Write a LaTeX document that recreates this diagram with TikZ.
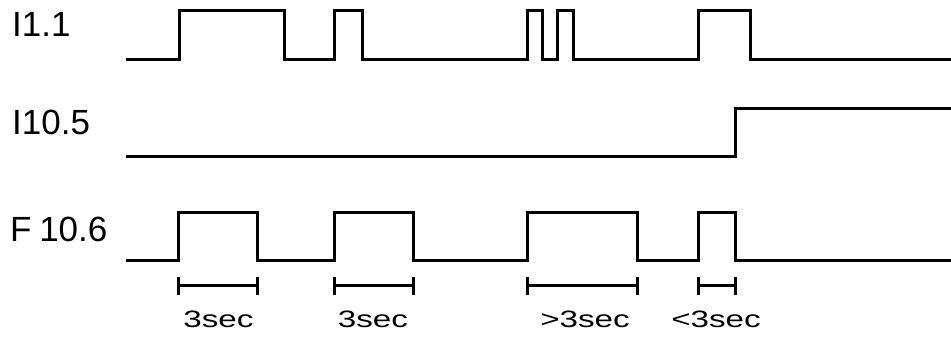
\documentclass[tikz,border=0pt]{standalone}
\usepackage{fontspec}
\setmainfont{Liberation Sans}
\begin{document}
\begin{tikzpicture}[x=1pt,y=-1pt,
  signal/.style={line width=3pt,line join=miter},
  span/.style={line width=3pt},
  sig label/.style={anchor=base west,inner sep=0pt,font=\fontsize{35}{40}\selectfont},
  time label/.style={anchor=base,inner sep=0pt,font=\fontsize{23.7}{28}\selectfont}]
\useasboundingbox (0,0) rectangle (951,337);
% labels
\node[sig label] (lI) at (12,37) {I1.1};
\node[sig label] (lII) at (12,135) {I10.5};
\node[sig label] (lF) at (10,241) {F\kern-2pt\ 10.6};
% I1.1
\draw[signal] (126,59.5) -- (179,59.5) -- (179,10.5) -- (284,10.5) -- (284,59.5)
  -- (334,59.5) -- (334,10.5) -- (362,10.5) -- (362,59.5)
  -- (527,59.5) -- (527,10.5) -- (542,10.5) -- (542,59.5)
  -- (557,59.5) -- (557,10.5) -- (573,10.5) -- (573,59.5)
  -- (698,59.5) -- (698,10.5) -- (750,10.5) -- (750,59.5) -- (951,59.5);
% I10.5
\draw[signal] (126,156.5) -- (735,156.5) -- (735,108.5) -- (951,108.5);
% F10.6
\draw[signal] (126,260.5) -- (178,260.5) -- (178,212.5) -- (257,212.5) -- (257,260.5)
  -- (334,260.5) -- (334,212.5) -- (413,212.5) -- (413,260.5)
  -- (527,260.5) -- (527,212.5) -- (637,212.5) -- (637,260.5)
  -- (698,260.5) -- (698,212.5) -- (735,212.5) -- (735,260.5) -- (951,260.5);
% spans
\foreach \a/\b in {178/257,334/413,527/637,698/735}{
  \draw[span] (\a,277) -- (\a,295);
  \draw[span] (\b,277) -- (\b,295);
  \draw[span] (\a,285.5) -- (\b,285.5);
}
\node[time label] (t1) at (218.5,327) {\scalebox{1.4}[1]{3sec}};
\node[time label] (t2) at (373,327) {\scalebox{1.4}[1]{3sec}};
\node[time label] (t3) at (585,327) {\scalebox{1.4}[1]{>3sec}};
\node[time label] (t4) at (716,327) {\scalebox{1.4}[1]{<3sec}};
\end{tikzpicture}
\end{document}
